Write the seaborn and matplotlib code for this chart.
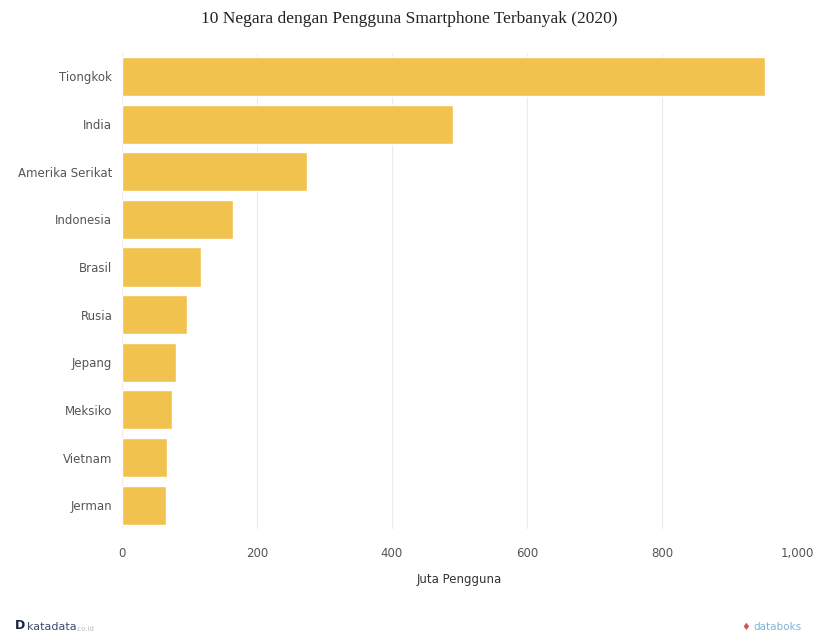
import pandas as pd
import seaborn as sns
import matplotlib.pyplot as plt
from matplotlib.ticker import FuncFormatter

# data (juta pengguna smartphone, 2020)
negara = ['Tiongkok', 'India', 'Amerika Serikat', 'Indonesia', 'Brasil',
          'Rusia', 'Jepang', 'Meksiko', 'Vietnam', 'Jerman']
pengguna = [953, 490, 274, 165, 117, 97, 80, 74, 66, 65]
x_ticks = [0, 200, 400, 600, 800, 1000]

df = pd.DataFrame({'negara': negara, 'pengguna': pengguna})

sns.set_style('whitegrid')
plt.rcParams['font.family'] = ['DejaVu Sans']

fig = plt.figure(figsize=(8.19, 6.42), dpi=100)
ax = fig.add_axes([0.149, 0.176, 0.824, 0.742])

sns.barplot(data=df, x='pengguna', y='negara', color='#F2C24F',
            saturation=1, width=0.82, ax=ax)

ax.set_xlim(0, 1000)
ax.set_xticks(x_ticks)
ax.xaxis.set_major_formatter(FuncFormatter(lambda v, p: f'{int(v):,}'))
ax.grid(axis='x', color='#ececec', linewidth=0.8)
ax.grid(axis='y', visible=False)
for s in ax.spines.values():
    s.set_visible(False)

ax.tick_params(axis='x', length=0, pad=13, labelsize=8.5, labelcolor='#555555')
ax.tick_params(axis='y', length=4, width=0.6, color='#cccccc', pad=3,
               labelsize=8.5, labelcolor='#555555')
ax.set_ylabel('')
ax.set_xlabel('Juta Pengguna', fontsize=8.5, color='#333333', labelpad=9)

fig.text(0.5, 0.971, '10 Negara dengan Pengguna Smartphone Terbanyak (2020)',
         ha='center', va='center', fontsize=12.5, family='Liberation Serif',
         color='#222222')

# footer
fig.text(0.018, 0.015, 'D', fontsize=9, fontweight='bold', color='#1a2340',
         va='bottom')
fig.text(0.033, 0.015, 'katadata', fontsize=8, color='#3b4a6b', va='bottom')
fig.text(0.092, 0.015, '.co.id', fontsize=5, color='#bbbbbb', va='bottom')
fig.text(0.905, 0.015, '\u2666', fontsize=7, color='#d9534f', va='bottom')
fig.text(0.92, 0.015, 'databoks', fontsize=7.5, color='#7fb3d5', va='bottom')

fig.savefig('out.png', dpi=100, facecolor='white')
